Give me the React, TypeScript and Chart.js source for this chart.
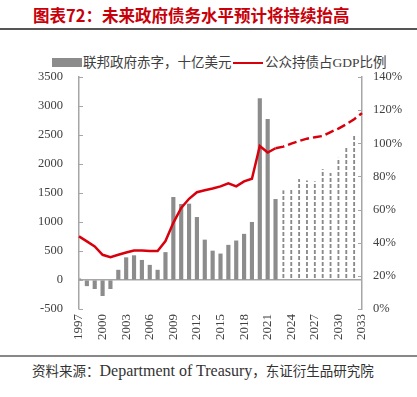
import React, { useEffect, useRef } from "react";
import { Chart, registerables } from "chart.js";

Chart.register(...registerables);

const years = [
  "1997", "1998", "1999", "2000", "2001", "2002", "2003", "2004", "2005", "2006",
  "2007", "2008", "2009", "2010", "2011", "2012", "2013", "2014", "2015", "2016",
  "2017", "2018", "2019", "2020", "2021", "2022", "2023", "2024", "2025", "2026",
  "2027", "2028", "2029", "2030", "2031", "2032", "2033",
];

// 联邦政府赤字（十亿美元），历史值
const deficitActual: (number | null)[] = [
  20, -100, -150, -270, -150, 170, 385, 420, 340, 255,
  170, 475, 1425, 1305, 1310, 1080, 690, 500, 450, 600,
  675, 790, 995, 3130, 2770, 1390, null, null, null, null,
  null, null, null, null, null, null, null,
];

// 联邦政府赤字（十亿美元），预测值
const deficitProjected: (number | null)[] = [
  null, null, null, null, null, null, null, null, null, null,
  null, null, null, null, null, null, null, null, null, null,
  null, null, null, null, null, null, 1540, 1565, 1735, 1710,
  1695, 1905, 1840, 2100, 2270, 2480, null,
];

// 公众持债占GDP比例（%）
const debtRatio: number[] = [
  43.8, 40.8, 37.8, 32.7, 31.3, 32.7, 34.1, 35.3, 35.3, 35.0,
  35.0, 41.0, 52.0, 61.0, 66.5, 70.5, 71.7, 72.7, 74.0, 75.8,
  74.0, 77.0, 78.6, 98.4, 94.4, 97.0, 98.0, 99.8, 101.4, 102.8,
  103.6, 104.4, 106.8, 108.9, 111.5, 114.5, 118.2,
];

const leftTicks = { min: -500, max: 3500, step: 500 };
const rightTicks = { min: 0, max: 140, step: 20 };
const projectionStartIndex = 25;

const title = "图表72：未来政府债务水平预计将持续抬高";
const legendBar = "联邦政府赤字，十亿美元";
const legendLine = "公众持债占GDP比例";
const sourceText = "资料来源：";
const sourceLatin = "Department of Treasury";
const sourceTail = "，东证衍生品研究院";

const AXIS_COLOR = "#a6a6a6";
const BAR_COLOR = "#8c8c8c";
const LINE_COLOR = "#d9000d";
const TEXT_COLOR = "#404040";
const SERIF = "'Liberation Serif', 'Noto Sans CJK SC', serif";

function makeDashPattern(): CanvasPattern | string {
  const c = document.createElement("canvas");
  c.width = 2;
  c.height = 6;
  const g = c.getContext("2d");
  if (!g) return BAR_COLOR;
  g.fillStyle = "#8a8a8a";
  g.fillRect(0, 0, 2, 4);
  const p = g.createPattern(c, "repeat");
  return p || BAR_COLOR;
}

const innerTicks = {
  id: "innerTicks",
  afterDraw(chart: any) {
    const ctx = chart.ctx;
    const area = chart.chartArea;
    ctx.save();
    ctx.strokeStyle = AXIS_COLOR;
    ctx.lineWidth = 1;
    const ys = chart.scales.y;
    ys.ticks.forEach((t: any) => {
      const py = Math.round(ys.getPixelForValue(t.value)) + 0.5;
      ctx.beginPath();
      ctx.moveTo(area.left, py);
      ctx.lineTo(area.left + 4, py);
      ctx.stroke();
    });
    const ys2 = chart.scales.y2;
    ys2.ticks.forEach((t: any) => {
      const py = Math.round(ys2.getPixelForValue(t.value)) + 0.5;
      ctx.beginPath();
      ctx.moveTo(area.right - 4, py);
      ctx.lineTo(area.right, py);
      ctx.stroke();
    });
    ctx.restore();
  },
};

function DeficitChart() {
  const ref = useRef<HTMLCanvasElement | null>(null);
  useEffect(() => {
    if (!ref.current) return;
    const pattern = makeDashPattern();
    const chart = new Chart(ref.current, {
      type: "bar",
      data: {
        labels: years,
        datasets: [
          {
            type: "line",
            label: legendLine,
            data: debtRatio,
            yAxisID: "y2",
            borderColor: LINE_COLOR,
            borderWidth: 2.5,
            pointRadius: 0,
            tension: 0,
            order: 0,
            segment: {
              borderDash: (ctx: any) =>
                ctx.p0DataIndex >= projectionStartIndex ? [9, 4] : undefined,
            },
          } as any,
          {
            type: "bar",
            label: legendBar,
            data: deficitActual,
            yAxisID: "y",
            backgroundColor: BAR_COLOR,
            barThickness: 3.5,
            grouped: false,
            order: 1,
          } as any,
          {
            type: "bar",
            label: legendBar + "（预测）",
            data: deficitProjected,
            yAxisID: "y",
            backgroundColor: pattern,
            barThickness: 1.2,
            grouped: false,
            order: 2,
          } as any,
        ],
      },
      options: {
        responsive: false,
        animation: false,
        layout: { padding: { top: 37, left: 0, right: 0, bottom: 0 } },
        plugins: {
          legend: { display: false },
          tooltip: { enabled: false },
        },
        scales: {
          x: {
            type: "category",
            offset: false,
            grid: { display: false, drawTicks: false },
            border: { display: false },
            afterFit: (s: any) => {
              s.height = 43;
            },
            ticks: {
              autoSkip: false,
              minRotation: 90,
              maxRotation: 90,
              padding: 5,
              color: TEXT_COLOR,
              font: { family: SERIF, size: 13 },
              callback: (_v: any, i: number) => (i % 3 === 0 ? years[i] : ""),
            },
          },
          y: {
            position: "left",
            min: leftTicks.min,
            max: leftTicks.max,
            afterFit: (s: any) => {
              s.width = 79;
            },
            border: { display: true, color: AXIS_COLOR, width: 1.5 },
            grid: {
              drawTicks: false,
              lineWidth: 1.5,
              color: (c: any) => (c.tick && c.tick.value === 0 ? AXIS_COLOR : "rgba(0,0,0,0)"),
            },
            ticks: {
              stepSize: leftTicks.step,
              padding: 16,
              color: TEXT_COLOR,
              font: { family: SERIF, size: 12.5 },
              callback: (v: any) => String(v),
            },
          },
          y2: {
            position: "right",
            min: rightTicks.min,
            max: rightTicks.max,
            afterFit: (s: any) => {
              s.width = 55;
            },
            border: { display: true, color: AXIS_COLOR, width: 1.5 },
            grid: { display: false, drawTicks: false },
            ticks: {
              stepSize: rightTicks.step,
              padding: 11,
              color: TEXT_COLOR,
              font: { family: SERIF, size: 12.5 },
              callback: (v: any) => v + "%",
            },
          },
        },
      },
      plugins: [innerTicks],
    });
    return () => chart.destroy();
  }, []);
  return (
    <canvas
      ref={ref}
      width={417}
      height={312}
      style={{ position: "absolute", left: 0, top: 40, width: 417, height: 312 }}
    />
  );
}

export default function App() {
  return (
    <div
      style={{
        position: "absolute",
        left: 0,
        top: 0,
        width: 417,
        height: 397,
        background: "#fff",
        overflow: "hidden",
      }}
    >
      <div
        style={{
          position: "absolute",
          left: 33,
          top: 4,
          fontFamily: "'Noto Sans CJK SC', sans-serif",
          fontWeight: 700,
          fontSize: 16.5,
          color: "#c8000a",
          whiteSpace: "nowrap",
          lineHeight: "22px",
        }}
      >
        {title}
      </div>
      <div style={{ position: "absolute", left: 0, top: 28, width: 417, height: 2, background: "#555" }} />

      {/* 图例 */}
      <div style={{ position: "absolute", left: 52, top: 58, width: 30, height: 9, background: BAR_COLOR }} />
      <div
        style={{
          position: "absolute",
          left: 83,
          top: 53,
          fontFamily: SERIF,
          fontSize: 13.5,
          lineHeight: "20px",
          color: TEXT_COLOR,
          whiteSpace: "nowrap",
        }}
      >
        {legendBar}
      </div>
      <div style={{ position: "absolute", left: 233, top: 61.5, width: 30, height: 2.5, background: LINE_COLOR }} />
      <div
        style={{
          position: "absolute",
          left: 265,
          top: 53,
          fontFamily: SERIF,
          fontSize: 13.5,
          lineHeight: "20px",
          color: TEXT_COLOR,
          whiteSpace: "nowrap",
        }}
      >
        {legendLine}
      </div>

      <DeficitChart />

      <div style={{ position: "absolute", left: 0, top: 355, width: 417, height: 1.5, background: "#888" }} />
      <div
        style={{
          position: "absolute",
          left: 32,
          top: 361,
          fontFamily: SERIF,
          fontSize: 13.5,
          lineHeight: "20px",
          color: "#333",
          whiteSpace: "nowrap",
        }}
      >
        {sourceText}
        <span style={{ fontSize: 16 }}>{sourceLatin}</span>
        {sourceTail}
      </div>
    </div>
  );
}
